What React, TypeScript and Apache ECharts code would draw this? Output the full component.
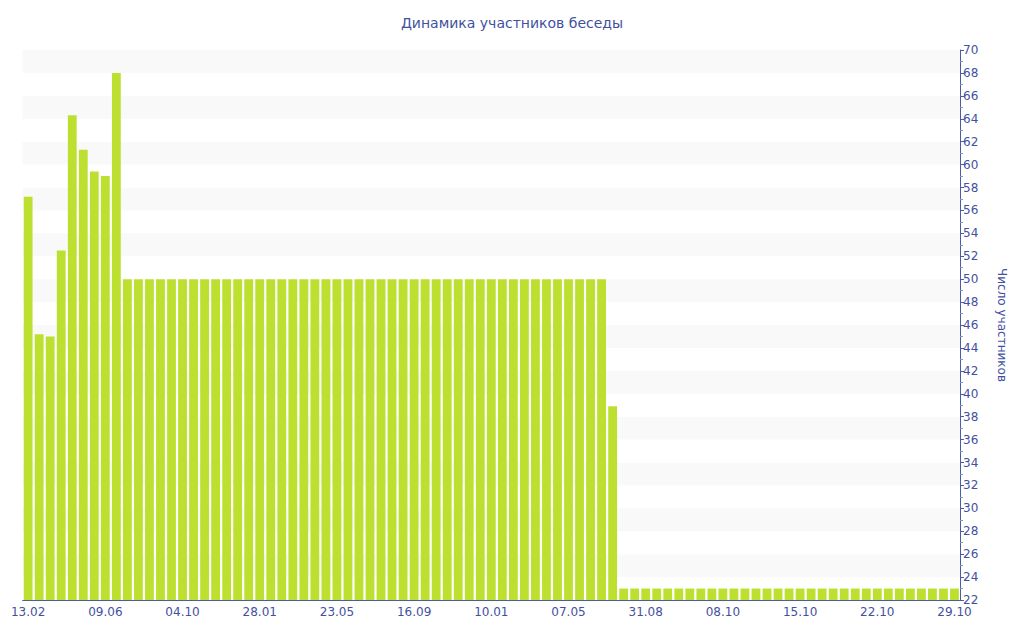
import React, { useEffect, useRef } from "react";
import * as echarts from "echarts";

const title = "Динамика участников беседы";
const yAxisName = "Число участников";

const categories = [
  "13.02", "01.03", "18.03", "03.04", "20.04", "06.05", "23.05",
  "09.06", "26.06", "12.07", "29.07", "15.08", "31.08", "17.09",
  "04.10", "20.10", "06.11", "23.11", "09.12", "26.12", "11.01",
  "28.01", "13.02", "02.03", "18.03", "04.04", "20.04", "07.05",
  "23.05", "09.06", "25.06", "12.07", "29.07", "14.08", "31.08",
  "16.09", "03.10", "19.10", "05.11", "22.11", "08.12", "25.12",
  "10.01", "27.01", "12.02", "01.03", "18.03", "03.04", "20.04",
  "07.05", "23.05", "09.06", "26.06", "12.07", "29.07", "14.08",
  "31.08", "05.09", "11.09", "16.09", "22.09", "27.09", "03.10",
  "08.10", "09.10", "10.10", "11.10", "12.10", "13.10", "14.10",
  "15.10", "16.10", "17.10", "18.10", "19.10", "20.10", "21.10",
  "22.10", "23.10", "24.10", "25.10", "26.10", "27.10", "28.10",
  "29.10",
];

const members = [
  57.2, 45.2, 45.0, 52.5, 64.3, 61.3, 59.4, 59.0, 68,
  50, 50, 50, 50, 50, 50, 50, 50, 50, 50,
  50, 50, 50, 50, 50, 50, 50, 50, 50, 50,
  50, 50, 50, 50, 50, 50, 50, 50, 50, 50,
  50, 50, 50, 50, 50, 50, 50, 50, 50, 50,
  50, 50, 50, 50,
  38.9,
  23, 23, 23, 23, 23, 23, 23, 23, 23, 23,
  23, 23, 23, 23, 23, 23, 23, 23, 23, 23,
  23, 23, 23, 23, 23, 23, 23, 23, 23, 23,
  23,
];

const blue = "#3f51a0";
const font = "DejaVu Sans";

export default function App() {
  const ref = useRef<HTMLDivElement>(null);
  useEffect(() => {
    const chart = echarts.init(ref.current!, null, { renderer: "svg" });
    chart.setOption({
      animation: false,
      backgroundColor: "#ffffff",
      title: {
        text: title,
        left: "center",
        top: 3,
        textStyle: { color: blue, fontFamily: font, fontSize: 14, fontWeight: "normal" },
      },
      grid: { left: 12, right: 53, top: 42, bottom: 32 },
      xAxis: {
        type: "category",
        data: categories,
        boundaryGap: true,
        axisLine: { lineStyle: { color: "#4a5ca8", width: 1 } },
        axisTick: { show: true, alignWithLabel: true, interval: 6, inside: true, length: 3, lineStyle: { color: "#aaaaaa" } },
        axisLabel: { interval: 6, color: blue, fontFamily: font, fontSize: 12, margin: 6 },
        splitLine: { show: false },
      },
      yAxis: {
        type: "value",
        position: "right",
        min: 22,
        max: 70,
        interval: 2,
        name: yAxisName,
        nameLocation: "middle",
        nameRotate: -90,
        nameGap: 36,
        nameTextStyle: { color: blue, fontFamily: font, fontSize: 12 },
        axisLine: { show: true, lineStyle: { color: "#4a5ca8", width: 1 } },
        axisTick: { show: true, length: 4, lineStyle: { color: "#4a5ca8" } },
        minorTick: { show: true, splitNumber: 2, length: 3, lineStyle: { color: "#8a94c0" } },
        axisLabel: { color: blue, fontFamily: font, fontSize: 12, margin: 3 },
        splitLine: { show: false },
        splitArea: { show: true, areaStyle: { color: ["#ffffff", "#f9f9f9"] } },
      },
      series: [
        {
          type: "bar",
          data: members,
          barCategoryGap: "20%",
          itemStyle: { color: "#bde030" },
        },
      ],
    });
    return () => chart.dispose();
  }, []);
  return <div ref={ref} style={{ width: 1008, height: 624 }} />;
}
